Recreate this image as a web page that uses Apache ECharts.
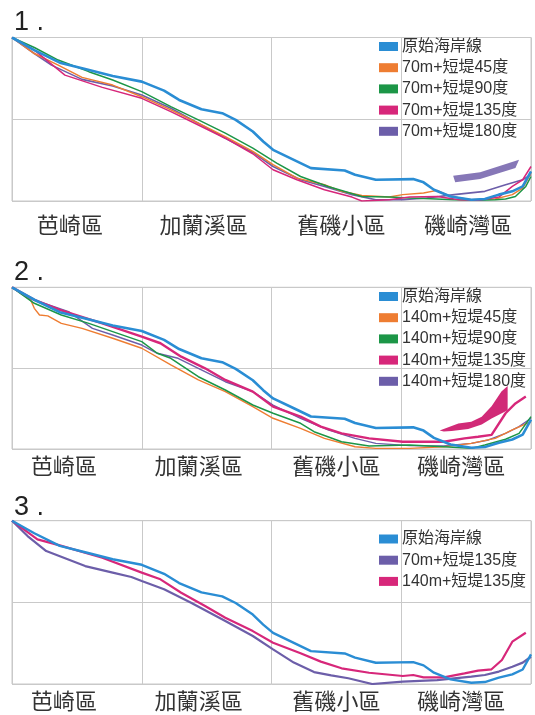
<!DOCTYPE html>
<html>
<head>
<meta charset="utf-8">
<script src="https://cdn.jsdelivr.net/npm/echarts@6/dist/echarts.min.js"></script>
<style>
html,body{margin:0;padding:0;background:#fff;}
#c{width:535px;height:715px;}
</style>
</head>
<body>
<div id="c"></div>
<script>
// ---------- data (x: 0-100 along coast, y: 0-100 relative position) ----------
const REGIONS = ['芭崎區', '加蘭溪區', '舊磯小區', '磯崎灣區'];
const PANEL_TITLES = ['1 .', '2 .', '3 .'];

const ORIGINAL = [[0,100],[4.3,92.3],[9.2,84.6],[14.1,80.7],[19.4,76.4],[25,73],[29.3,67.5],[32.2,61.8],[36.5,56.1],[40.5,53.7],[43.1,49.6],[46.4,42.5],[48.4,36.4],[50.3,31.3],[54.3,25.2],[57.6,20.1],[64.1,18.7],[66.1,16.1],[70.1,13],[77.3,13.4],[79.3,11.4],[81.3,6.9],[84.5,2.8],[88.5,0.8],[91.1,1.2],[93.8,3.9],[96.4,5.9],[98.4,8.9],[100,18.1]];

// panel 1: 70m
const P1_45 = [[0,100],[4.3,90.2],[8.9,83.1],[13.5,75.6],[19.4,70.9],[25,63.8],[30.6,55.7],[35.9,47.6],[41.1,39.4],[46.4,30.3],[50.3,22.2],[54.9,14],[60.2,10],[63.5,5.9],[67.4,3.3],[72.7,2.4],[75.3,3.9],[79.3,4.9],[81.9,6.5],[84.5,2.8],[88.5,0.8],[93.1,1.2],[96.4,3.9],[98.4,7.9],[100,17.1]];
const P1_90 = [[0,100],[4.3,93.9],[8.9,86.2],[14.8,79.1],[19.4,74],[25,66.9],[30.6,57.7],[35.9,49.6],[41.1,41.5],[46.4,32.3],[51,23.2],[55.6,15],[60.9,8.9],[67.4,2.8],[72.7,2.4],[76.6,1.8],[80.6,1.4],[85.2,0.8],[89.8,0.4],[93.1,0.8],[95.1,1.2],[97,2.8],[99,8.9],[100,15]];
const P1_135 = [[0,100],[4.3,92.3],[10.2,77],[17.4,69.5],[25,62.8],[30.6,54.7],[35.9,46.5],[41.1,38.4],[46.4,28.9],[50.3,19.1],[54.9,13],[60.2,6.9],[65.5,2.4],[67.4,0],[72.7,0.8],[76.6,2.4],[81.9,2.8],[86.2,0.8],[89.8,0.4],[93.8,2.4],[96.4,8.9],[98.4,13],[100,21.1]];
const P1_180 = [[0,100],[4.3,90.2],[7.6,83.1],[13.5,74.4],[19.4,70.3],[25,64.8],[30.6,56.7],[35.9,47.6],[41.1,38.4],[46.4,29.7],[50.3,21.1],[55.6,13],[60.2,8.9],[65.5,3.9],[70.1,0.8],[75.3,0.8],[79.9,1.8],[85.2,3.9],[91.1,5.9],[95.1,10],[98.4,13],[100,16.1]];
const P1_BAND = [[85,15.4],[90.2,17.6],[97.7,25.2],[97,20.2],[90.2,13.4],[85.4,11.4]];

// panel 2: 140m
const P2_45 = [[0,100],[3.6,92.2],[4.3,87],[5.3,82.9],[6.9,82.3],[9.5,77.7],[13.5,74.6],[19.4,68.5],[25,62.3],[30.6,52],[35.9,42.7],[41.1,35.5],[46.4,26.2],[50.3,19],[55.6,12.8],[60.2,6.6],[66.1,1.4],[70.1,0.4],[76.6,0.4],[83.2,1.4],[88.5,3.5],[93.1,6.6],[96.4,11.8],[100,16.9]];
const P2_90 = [[0,100],[4.3,90.1],[9.5,82.9],[14.8,77.7],[19.4,72.6],[25,66.4],[28,59.2],[30.6,56.1],[35.9,44.7],[41.1,36.5],[46.4,27.2],[50.3,22.1],[55.6,15.9],[58.2,10.7],[63.5,4.5],[68.8,1.9],[76.6,2.5],[83.2,1.4],[88.5,0.4],[91.1,2.5],[95.1,6],[97.7,9.7],[100,20]];
const P2_135 = [[0,100],[4.3,92.2],[9.2,86],[17.4,77.7],[25,69.5],[28.6,65.4],[32.6,57.1],[37.2,49.9],[41.1,42.7],[46.4,35.5],[50.3,26.2],[55.6,20],[59.5,13.8],[63.5,9.7],[68.8,6.6],[75.3,4.5],[83.2,4.5],[87.2,6.6],[89.8,7.6],[92.4,8.7],[95.1,22.1],[97,28.2],[99,32.4]];
const P2_180 = [[0,100],[4.3,92.2],[10.9,85],[15.5,74.6],[19.4,70.5],[25,64.3],[28,59.2],[32,56.1],[35.9,49.9],[41.1,41.6],[46.4,35.5],[50.3,27.2],[55.6,19],[60.9,11.8],[66.1,6.6],[70.1,3.5],[76.6,2.1],[83.2,1.9],[88.5,3.5],[91.8,5.6],[95.1,9.7],[97.7,13.8],[100,19]];
const P2_BAND = [[82.4,11.5],[86,15.8],[88.5,16.8],[90.5,20],[92.4,26.5],[94.3,35.5],[95.5,39],[95.5,24],[92.4,18.8],[90.5,15.2],[87.9,12.3],[84.7,11.2],[83.2,10.8]];

// panel 3: comparison
const P3_70_135 = [[0,100],[3,90.6],[6.6,81.4],[14.1,72.2],[19.4,68.2],[23,65.5],[25,63.1],[29.3,58],[34.5,49.8],[41.1,38.6],[46.4,29.4],[50.3,21.2],[54.3,13.1],[58.2,7.3],[61.5,5.3],[64.8,3.5],[69.4,0],[75.3,1.4],[81.9,2.4],[88.5,4.5],[91.1,5.5],[93.8,7.6],[96.4,10.6],[98.4,13.1],[100,16.7]];
const P3_140_135 = [[0,100],[4.9,88.6],[9.2,84.9],[17.4,77.3],[25,68.2],[28.6,64.1],[32.6,55.9],[37.2,47.8],[41.1,40.6],[46.4,32.4],[50.3,25.3],[55.6,18.8],[59.5,13.7],[63.5,9.6],[68.8,6.9],[75.3,4.9],[77.3,5.5],[79.3,4.1],[83.2,4.1],[87.2,6.5],[89.8,8.2],[92.4,9],[94.4,14.7],[96.4,25.9],[99,31.4]];

const NAMES1 = ['原始海岸線', '70m+短堤45度', '70m+短堤90度', '70m+短堤135度', '70m+短堤180度'];
const NAMES2 = ['原始海岸線', '140m+短堤45度', '140m+短堤90度', '140m+短堤135度', '140m+短堤180度'];
const NAMES3 = ['原始海岸線', '70m+短堤135度', '140m+短堤135度'];

// ---------- styling ----------
const BLUE = '#2a8dd4', ORANGE = '#ee7d32', GREEN = '#1c9647', MAGENTA = '#d7277a', PURPLE = '#6c5ea9';
const BAND_PURPLE = '#8677b7', BAND_MAGENTA = '#d12a77';
const GRIDC = '#c9c9c9';
const FONT = '"Liberation Sans", Arial, "Noto Sans CJK TC", sans-serif';
const CJK = '"Noto Sans CJK TC", sans-serif';

// label horizontal nudges (px) per region, per panel
const grids = [
  {left: 12, top: 37.5, width: 519, height: 163.5, labelMargin: 13, legendTop: 38.5, titleTop: 4, nudge: [-7, -3, 5, 2]},
  {left: 12, top: 287.3, width: 519, height: 161.7, labelMargin: 6, legendTop: 288.5, titleTop: 254, nudge: [-13, -8, 0, -5]},
  {left: 12, top: 520.7, width: 519, height: 163.3, labelMargin: 6, legendTop: 531, titleTop: 489, nudge: [-13, -8, 0, -5]}
];

const option = {
  animation: false,
  backgroundColor: '#fff',
  title: PANEL_TITLES.map((t, i) => ({
    text: t, left: 9, top: grids[i].titleTop,
    textStyle: {fontSize: 27, fontWeight: 'normal', color: '#222', fontFamily: FONT}
  })),
  grid: grids.map(g => ({left: g.left, top: g.top, width: g.width, height: g.height,
    show: true, borderColor: GRIDC, borderWidth: 1, backgroundColor: 'transparent'})),
  xAxis: [],
  yAxis: [],
  legend: [],
  series: []
};

grids.forEach((g, i) => {
  const rich = {};
  g.nudge.forEach((n, k) => {
    rich['p' + k] = {fontSize: 22, color: '#333', fontFamily: CJK,
      padding: n < 0 ? [0, -2 * n, 0, 0] : [0, 0, 0, 2 * n]};
  });
  option.xAxis.push({
    type: 'value', gridIndex: i, min: 0, max: 100, interval: 25,
    axisLabel: {show: false}, axisLine: {show: false}, axisTick: {show: false},
    splitLine: {show: true, lineStyle: {color: GRIDC, width: 1}}
  });
  option.xAxis.push({
    type: 'category', gridIndex: i, data: REGIONS, boundaryGap: true, position: 'bottom',
    axisLine: {show: false}, axisTick: {show: false}, splitLine: {show: false},
    axisLabel: {fontSize: 22, color: '#333', fontFamily: CJK, margin: g.labelMargin,
      interval: 0, formatter: (v, idx) => '{p' + idx + '|' + v + '}', rich: rich}
  });
  option.yAxis.push({
    type: 'value', gridIndex: i, min: 0, max: 100, interval: 50,
    axisLabel: {show: false}, axisLine: {show: false}, axisTick: {show: false},
    splitLine: {show: true, lineStyle: {color: GRIDC, width: 1}}
  });
});

function line(name, data, color, width, gi, z) {
  return {
    type: 'line', name: name, data: data, xAxisIndex: gi * 2, yAxisIndex: gi,
    showSymbol: false, symbol: 'none', smooth: false, z: z || 2,
    itemStyle: {color: color}, lineStyle: {color: color, width: width}
  };
}
function band(pts, color, gi) {
  return {
    type: 'custom', xAxisIndex: gi * 2, yAxisIndex: gi, data: pts, z: 1,
    renderItem: function (params, api) {
      if (params.dataIndex !== 0) return null;
      return {type: 'polygon', shape: {points: pts.map(p => api.coord(p))}, style: {fill: color}};
    }
  };
}

// panel 1
option.series.push(
  band(P1_BAND, BAND_PURPLE, 0),
  line(NAMES1[4], P1_180, PURPLE, 1.6, 0),
  line(NAMES1[1], P1_45, ORANGE, 1.5, 0),
  line(NAMES1[2], P1_90, GREEN, 1.5, 0),
  line(NAMES1[3], P1_135, MAGENTA, 1.5, 0),
  line(NAMES1[0], ORIGINAL, BLUE, 2.6, 0, 3)
);
// panel 2
option.series.push(
  band(P2_BAND, BAND_MAGENTA, 1),
  line(NAMES2[4], P2_180, PURPLE, 1.4, 1),
  line(NAMES2[1], P2_45, ORANGE, 1.4, 1),
  line(NAMES2[2], P2_90, GREEN, 1.5, 1),
  line(NAMES2[3], P2_135, MAGENTA, 2.4, 1),
  line(NAMES2[0], ORIGINAL, BLUE, 2.6, 1, 3)
);
// panel 3
option.series.push(
  line(NAMES3[1], P3_70_135, PURPLE, 2.2, 2),
  line(NAMES3[2], P3_140_135, MAGENTA, 2.2, 2),
  line(NAMES3[0], ORIGINAL, BLUE, 2.4, 2, 3)
);

const legendColors = [
  [BLUE, ORANGE, GREEN, MAGENTA, PURPLE],
  [BLUE, ORANGE, GREEN, MAGENTA, PURPLE],
  [BLUE, PURPLE, MAGENTA]
];
[NAMES1, NAMES2, NAMES3].forEach((names, i) => {
  option.legend.push({
    orient: 'vertical', left: 379, top: grids[i].legendTop,
    icon: 'rect', itemWidth: 19, itemHeight: 9, itemGap: 5.2,
    selectedMode: false, padding: 0,
    textStyle: {fontSize: 16, color: '#333', fontFamily: FONT, padding: [0, 0, 0, -1]},
    data: names.map((n, k) => ({name: n, itemStyle: {color: legendColors[i][k]}}))
  });
});

const chart = echarts.init(document.getElementById('c'), null, {renderer: 'canvas'});
chart.setOption(option);
</script>
</body>
</html>
